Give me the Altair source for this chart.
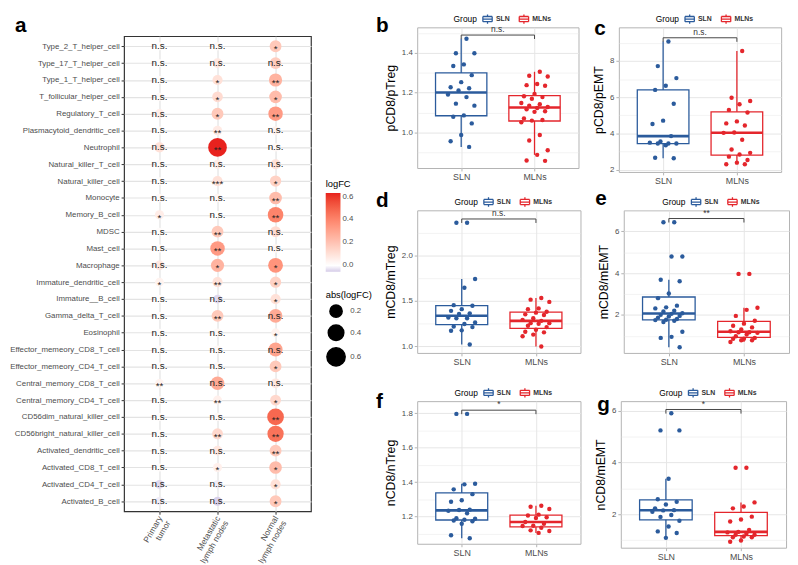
import altair as alt
import pandas as pd

FONT = "Liberation Sans"
BLUE = "#2B5B9C"
RED = "#E4262C"

# ---------------- panel a data ----------------
cell_types = [
    "Type_2_T_helper_cell", "Type_17_T_helper_cell", "Type_1_T_helper_cell",
    "T_follicular_helper_cell", "Regulatory_T_cell", "Plasmacytoid_dendritic_cell",
    "Neutrophil", "Natural_killer_T_cell", "Natural_killer_cell", "Monocyte",
    "Memory_B_cell", "MDSC", "Mast_cell", "Macrophage", "Immature_dendritic_cell",
    "Immature__B_cell", "Gamma_delta_T_cell", "Eosinophil",
    "Effector_memeory_CD8_T_cell", "Effector_memeory_CD4_T_cell",
    "Central_memory_CD8_T_cell", "Central_memory_CD4_T_cell",
    "CD56dim_natural_killer_cell", "CD56bright_natural_killer_cell",
    "Activated_dendritic_cell", "Activated_CD8_T_cell", "Activated_CD4_T_cell",
    "Activated_B_cell"]
tissues = ["Primary\ntumor", "Metastatic\nlymph nodes", "Normal\nlymph nodes"]

logfc_primary = [0.01, 0.01, 0.01, 0.02, 0.06, 0.01, 0.10, 0.02, 0.01, 0.02,
                 0.06, 0.01, 0.01, 0.08, 0.04, 0.01, 0.01, 0.01, 0.01, 0.01,
                 0.04, 0.01, 0.01, 0.01, 0.01, 0.01, -0.04, -0.02]
logfc_metastatic = [0.02, 0.08, 0.10, 0.12, 0.18, 0.07, 0.63, 0.06, 0.10, 0.03,
                    0.00, 0.18, 0.33, 0.25, 0.10, -0.04, 0.18, 0.02, 0.02, 0.02,
                    0.28, 0.05, 0.02, 0.13, 0.08, 0.05, -0.02, -0.05]
logfc_normal = [0.18, 0.17, 0.25, 0.22, 0.33, 0.04, 0.02, 0.10, 0.15, 0.22,
                0.40, 0.12, 0.03, 0.35, 0.15, 0.10, 0.28, 0.04, 0.30, 0.18,
                0.08, 0.13, 0.48, 0.45, 0.18, 0.22, 0.10, 0.18]
sig_primary = ["n.s.", "n.s.", "n.s.", "n.s.", "n.s.", "n.s.", "n.s.", "n.s.", "n.s.", "n.s.",
               "*", "n.s.", "n.s.", "n.s.", "*", "n.s.", "n.s.", "n.s.", "n.s.", "n.s.",
               "**", "n.s.", "n.s.", "n.s.", "n.s.", "n.s.", "n.s.", "n.s."]
sig_metastatic = ["n.s.", "n.s.", "*", "*", "*", "**", "**", "n.s.", "***", "n.s.",
                  "n.s.", "**", "**", "*", "**", "n.s.", "**", "n.s.", "n.s.", "n.s.",
                  "n.s.", "**", "n.s.", "**", "n.s.", "*", "n.s.", "n.s."]
sig_normal = ["*", "n.s.", "**", "*", "**", "n.s.", "n.s.", "n.s.", "*", "**",
              "**", "n.s.", "n.s.", "*", "*", "*", "n.s.", "*", "n.s.", "*",
              "n.s.", "*", "**", "**", "**", "*", "*", "*"]

rows = []
for i, c in enumerate(cell_types):
    for t, lf, sg in zip(tissues,
                         (logfc_primary[i], logfc_metastatic[i], logfc_normal[i]),
                         (sig_primary[i], sig_metastatic[i], sig_normal[i])):
        rows.append({"cell": c, "tissue": t, "logFC": lf, "absFC": abs(lf), "sig": sg})
dfa = pd.DataFrame(rows)

# ---------------- boxplot panels data ----------------
b_sln = [1.471, 1.398, 1.398, 1.342, 1.334, 1.288, 1.253, 1.227, 1.222, 1.211, 1.191,
         1.178, 1.145, 1.135, 1.086, 1.079, 1.046, 0.988, 0.956, 0.928]
b_mln = [1.305, 1.285, 1.281, 1.244, 1.238, 1.235, 1.194, 1.182, 1.178, 1.170, 1.148,
         1.142, 1.135, 1.128, 1.123, 1.117, 1.107, 1.104, 1.071, 1.063, 1.060, 1.052,
         0.988, 0.960, 0.911, 0.888, 0.860, 0.858]
c_sln = [9.06, 7.71, 7.05, 6.63, 6.40, 5.64, 4.71, 4.53, 3.86, 3.57, 3.50, 3.45, 3.45,
         3.45, 3.36, 2.67, 2.64]
c_mln = [8.54, 5.97, 5.79, 5.61, 5.30, 5.16, 4.67, 4.56, 4.44, 4.06, 4.04, 3.66, 3.12,
         2.94, 2.85, 2.73, 2.55, 2.40, 2.31, 2.31]
d_sln = [2.366, 2.366, 1.743, 1.645, 1.453, 1.446, 1.409, 1.390, 1.362, 1.355, 1.315,
         1.308, 1.308, 1.261, 1.245, 1.217, 1.210, 1.174, 1.170, 1.018]
d_mln = [1.533, 1.514, 1.489, 1.417, 1.409, 1.380, 1.370, 1.351, 1.344, 1.308, 1.290,
         1.279, 1.254, 1.254, 1.246, 1.225, 1.210, 1.181, 1.159, 1.152, 1.127, 1.109, 0.996]
e_sln = [6.43, 6.43, 4.79, 4.79, 3.68, 3.61, 3.02, 2.80, 2.44, 2.36, 2.31, 2.20, 2.16,
         2.08, 2.05, 2.00, 1.95, 1.92, 1.87, 1.80, 1.77, 1.75, 1.72, 1.66, 1.19, 0.95,
         0.90, 0.45]
e_mln = [3.96, 3.96, 2.34, 2.24, 1.95, 1.72, 1.58, 1.48, 1.40, 1.30, 1.22, 1.17, 1.17,
         1.14, 1.06, 0.98, 0.90, 0.86, 0.86, 0.79, 0.79, 0.70]
f_sln = [1.796, 1.796, 1.390, 1.387, 1.358, 1.330, 1.295, 1.286, 1.240, 1.238, 1.234,
         1.219, 1.190, 1.187, 1.181, 1.177, 1.173, 1.158, 1.091, 1.074]
f_mln = [1.263, 1.257, 1.244, 1.211, 1.206, 1.196, 1.192, 1.168, 1.158, 1.147, 1.145,
         1.135, 1.120, 1.116, 1.105]
g_sln = [5.90, 5.24, 5.24, 3.37, 2.58, 2.48, 2.38, 2.23, 2.16, 2.15, 2.10, 1.97, 1.90,
         1.75, 1.53, 1.34, 1.28, 1.09]
g_mln = [3.80, 3.80, 2.46, 2.30, 2.23, 1.91, 1.80, 1.72, 1.40, 1.32, 1.30, 1.25, 1.21,
         1.21, 1.14, 1.11, 1.11, 0.99, 0.94]

groups = ["SLN", "MLNs"]
sig_labels = {"b": "n.s.", "c": "n.s.", "d": "n.s.", "e": "**", "f": "*", "g": "*"}
y_titles = {"b": "pCD8/pTreg", "c": "pCD8/pEMT", "d": "mCD8/mTreg",
            "e": "mCD8/mEMT", "f": "nCD8/nTreg", "g": "nCD8/mEMT"}


def letter_layer(letter, lx, ly):
    return alt.Chart(pd.DataFrame({"t": [letter]})).mark_text(
        fontSize=21, fontWeight="bold", align="left", baseline="top", color="black"
    ).encode(text="t:N", x=alt.value(lx), y=alt.value(ly))


# ---------------- panel a ----------------
xa = alt.X("tissue:N", sort=tissues, scale=alt.Scale(type="point", padding=0.61),
           axis=alt.Axis(title=None, labelAngle=300, labelAlign="right", labelBaseline="middle",
                         labelExpr="split(datum.label, '\\n')", labelFontSize=8.5,
                         labelColor="#4d4d4d", tickColor="#333333", tickSize=3, domain=False,
                         grid=True, gridColor="#e3e3e3", gridWidth=1.2, labelPadding=2,
                         labelLineHeight=9.5))
ya = alt.Y("cell:N", sort=cell_types, scale=alt.Scale(type="point", padding=0.6),
           axis=alt.Axis(title=None, labelFontSize=8, labelColor="#4d4d4d",
                         tickColor="#333333", tickSize=3, domain=False, grid=True,
                         gridColor="#e3e3e3", gridWidth=1.2, labelPadding=2))

dots = alt.Chart(dfa).mark_circle(opacity=1).encode(
    x=xa, y=ya,
    color=alt.Color("logFC:Q",
                    scale=alt.Scale(domain=[-0.055, 0, 0.63], interpolate="lab",
                                    range=["#d5cbe8", "#ffffff", "#e8221e"]),
                    legend=alt.Legend(title="logFC", orient="none", legendX=205, legendY=145,
                                      values=[0, 0.2, 0.4, 0.6], format=".1f",
                                      gradientLength=80, gradientThickness=15,
                                      gradientStrokeWidth=0, labelFontSize=8,
                                      titleFontSize=9.5, titleFontWeight="normal",
                                      labelColor="#4d4d4d", direction="vertical",
                                      padding=0)),
    size=alt.Size("absFC:Q", scale=alt.Scale(domain=[0, 0.63], range=[60, 360]),
                  legend=alt.Legend(title="abs(logFC)", orient="none", legendX=205,
                                    legendY=258, values=[0.2, 0.4, 0.6],
                                    symbolFillColor="black", symbolStrokeColor="black",
                                    symbolOpacity=1, symbolType="circle", labelFontSize=8,
                                    titleFontSize=9.5, titleFontWeight="normal",
                                    labelColor="#4d4d4d", rowPadding=1, padding=0)),
)
ns_text = alt.Chart(dfa).transform_filter("datum.sig == 'n.s.'").mark_text(
    fontSize=10, color="#222222").encode(x=xa, y=ya, text="sig:N")
star_text = alt.Chart(dfa).transform_filter("datum.sig != 'n.s.'").mark_text(
    fontSize=10, color="#222222", dy=3).encode(x=xa, y=ya, text="sig:N")

panel_a = alt.layer(dots, ns_text, star_text).properties(
    width=190, height=483, view=alt.ViewBackground(stroke="#333333", strokeWidth=1.2))

# small header cell above panel a carrying its letter
header_a = letter_layer("a", -111, -12).properties(
    width=1, height=1, view=alt.ViewBackground(strokeOpacity=0))

# ---------------- boxplot panels ----------------
SYMBOL = ("M-1,-0.55L1,-0.55 M1,-0.55L1,0.55 M1,0.55L-1,0.55 M-1,0.55L-1,-0.55 "
          "M0,-1L0,-0.55 M0,0.55L0,1 M-1,0L1,0")


def box_panel(key, sln, mln, domain, majors, minors, fmt, w, h, lx, ly):
    df = pd.DataFrame({"Group": [groups[0]] * len(sln) + [groups[1]] * len(mln),
                       "value": sln + mln})
    test = f"indexof({majors}, datum.value) >= 0"
    span = domain[1] - domain[0]
    xscale = alt.Scale(domain=[0.4, 2.6], nice=False, zero=False)
    yscale = alt.Scale(domain=domain, nice=False, zero=False)
    xaxis = alt.Axis(title=None, values=[1, 2], labelExpr="datum.value == 1 ? 'SLN' : 'MLNs'",
                     labelFontSize=9, labelColor="#4d4d4d", tickColor="#b3b3b3", tickSize=3,
                     domain=False, grid=True, gridColor="#e6e6e6", gridWidth=1, labelPadding=2)
    yaxis = alt.Axis(title=y_titles[key], values=sorted(majors + minors), format=fmt,
                     labelExpr=f"{test} ? datum.label : ''", labelFontSize=8,
                     labelColor="#4d4d4d", tickColor="#b3b3b3", tickSize=3,
                     tickOpacity={"condition": {"test": test, "value": 1}, "value": 0},
                     domain=False, grid=True, gridColor="#e6e6e6",
                     gridWidth={"condition": {"test": test, "value": 1}, "value": 0.5},
                     titleFontSize=12.5, titleFontWeight="normal", titleColor="black",
                     titlePadding=4, labelPadding=2)

    def xq(f):
        return alt.X(f, type="quantitative", scale=xscale, axis=xaxis)

    def yq(f):
        return alt.Y(f, type="quantitative", scale=yscale, axis=yaxis)

    cscale = alt.Scale(domain=groups, range=[BLUE, RED])
    legend = alt.Legend(title="Group", orient="none", legendX=w / 2 - 45, legendY=-14,
                        direction="horizontal", titleOrient="left", symbolType=SYMBOL,
                        symbolSize=90, symbolStrokeWidth=1.3, symbolFillColor="white",
                        labelFontSize=7, labelFontWeight="bold", labelColor="#333333",
                        titleFontSize=8.5, titleFontWeight="normal", titlePadding=5,
                        columnPadding=7, labelOffset=3, padding=0)
    stroke = alt.Stroke("Group:N", scale=cscale, legend=legend)

    base = alt.Chart(df).transform_calculate(gx="datum.Group == 'SLN' ? 1 : 2")

    whisk = base.transform_joinaggregate(
        q1="q1(value)", q3="q3(value)", groupby=["Group"]
    ).transform_calculate(
        lo="datum.q1 - 1.5 * (datum.q3 - datum.q1)",
        hi="datum.q3 + 1.5 * (datum.q3 - datum.q1)"
    ).transform_filter(
        "datum.value >= datum.lo && datum.value <= datum.hi"
    ).transform_aggregate(
        wmin="min(value)", wmax="max(value)", groupby=["Group", "gx"]
    ).mark_rule(strokeWidth=1.3).encode(x=xq("gx"), y=yq("wmin"), y2="wmax:Q", stroke=stroke)

    stats = base.transform_aggregate(
        q1="q1(value)", q3="q3(value)", med="median(value)", groupby=["Group", "gx"]
    ).transform_calculate(xl="datum.gx - 0.35", xr="datum.gx + 0.35")
    box = stats.mark_rect(fill="white", strokeWidth=1.3).encode(
        x=xq("xl"), x2="xr:Q", y=yq("q1"), y2="q3:Q", stroke=stroke)
    med = stats.mark_rule(strokeWidth=2.6).encode(
        x=xq("xl"), x2="xr:Q", y=yq("med"), stroke=stroke)

    pts = base.transform_window(rn="row_number()", groupby=["Group"]).transform_calculate(
        jx="datum.gx + (((datum.rn * 7) % 11) / 10 - 0.5) * 0.36"
    ).mark_circle(size=20, opacity=1).encode(
        x=xq("jx"), y=yq("value"),
        color=alt.Color("Group:N", scale=cscale, legend=None))

    brk = base.transform_aggregate(mx="max(value)").transform_calculate(
        by=f"datum.mx + {0.026 * span}", tip=f"datum.mx + {(0.026 - 0.028) * span}",
        x1="1", x2="2", xm="1.5")
    hline = brk.mark_rule(color="#444444", strokeWidth=1).encode(
        x=xq("x1"), x2="x2:Q", y=yq("by"))
    ltip = brk.mark_rule(color="#444444", strokeWidth=1).encode(
        x=xq("x1"), y=yq("tip"), y2="by:Q")
    rtip = brk.mark_rule(color="#444444", strokeWidth=1).encode(
        x=xq("x2"), y=yq("tip"), y2="by:Q")
    stxt = brk.mark_text(fontSize=8.5, color="#333333", baseline="bottom", dy=-1).encode(
        x=xq("xm"), y=yq("by"), text=alt.value(sig_labels[key]))

    return alt.layer(whisk, box, med, pts, hline, ltip, rtip, stxt,
                     letter_layer(key, lx, ly)).properties(
        width=w, height=h, view=alt.ViewBackground(stroke="#b3b3b3", strokeWidth=1))


pb = box_panel("b", b_sln, b_mln, [0.822, 1.528], [1.0, 1.2, 1.4], [0.9, 1.1, 1.3, 1.5],
               ".1f", 164, 143, -42, -12)
pc = box_panel("c", c_sln, c_mln, [1.89, 9.84], [2, 4, 6, 8], [3, 5, 7, 9],
               "d", 165, 147, -25, -9)
pd_ = box_panel("d", d_sln, d_mln, [0.924, 2.503], [1.0, 1.5, 2.0], [1.25, 1.75, 2.25],
                ".1f", 166, 145, -42, -20)
pe = box_panel("e", e_sln, e_mln, [0.18, 7.0], [2, 4, 6], [1, 3, 5, 7],
               "d", 168, 145, -29, -22)
pf = box_panel("f", f_sln, f_mln, [1.042, 1.870], [1.2, 1.4, 1.6, 1.8], [1.1, 1.3, 1.5, 1.7],
               ".1f", 166, 145, -42, -10)
pg = box_panel("g", g_sln, g_mln, [0.71, 6.37], [2, 4, 6], [1, 3, 5],
               "d", 168, 149, -24, -7)

RS = dict(color="independent", stroke="independent", size="independent",
          x="independent", y="independent")
RL = dict(color="independent", stroke="independent", size="independent")


def indep(ch):
    return ch.resolve_scale(**RS).resolve_legend(**RL)


left = indep(alt.vconcat(header_a, panel_a, spacing=-3))
row1 = indep(alt.hconcat(pb, pc, spacing=13))
row2 = indep(alt.hconcat(pd_, pe, spacing=13))
row3 = indep(alt.hconcat(pf, pg, spacing=13))
lower = indep(alt.vconcat(row2, row3, spacing=19))
right = indep(alt.vconcat(row1, lower, spacing=1))

chart = indep(alt.hconcat(left, right, spacing=2)).properties(
    padding=0).configure(font=FONT).configure_axis(labelFont=FONT, titleFont=FONT
    ).configure_legend(labelFont=FONT, titleFont=FONT).configure_text(font=FONT)

chart.save("out.html", embed_options={"renderer": "svg", "actions": False})
